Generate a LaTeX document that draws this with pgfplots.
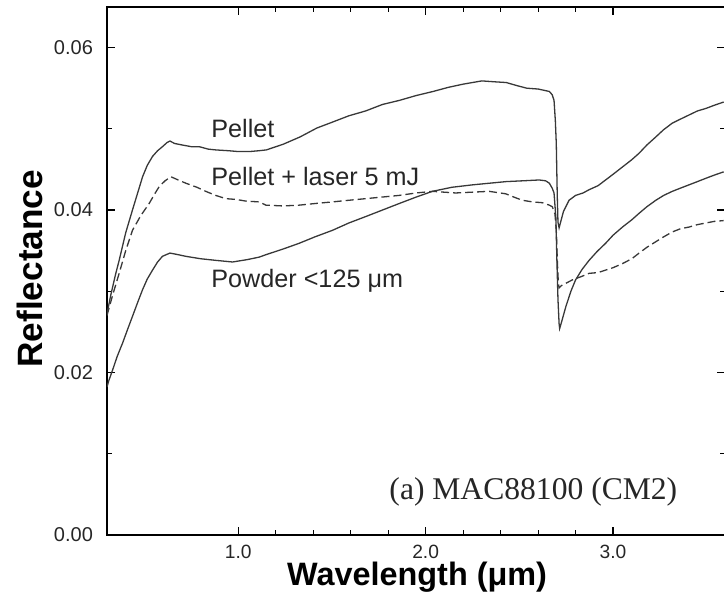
\documentclass[border=0pt]{standalone}
\usepackage{pgfplots}
\pgfplotsset{compat=1.18}
\usepackage{pgfplotstable}
\usepackage{fontspec}
\setmainfont{Liberation Sans}
\newfontfamily\timesfont{Liberation Serif}

% Reflectance spectra of MAC88100 (CM2): wavelength (um) vs reflectance
\pgfplotstableread{
w r
0.300 0.0272
0.320 0.0295
0.345 0.0320
0.365 0.0338
0.400 0.0372
0.436 0.0400
0.465 0.0422
0.490 0.0441
0.515 0.0455
0.543 0.0466
0.570 0.0473
0.596 0.0478
0.620 0.0483
0.636 0.0485
0.660 0.0482
0.703 0.0480
0.750 0.0478
0.792 0.0478
0.840 0.0475
0.881 0.0474
0.950 0.0473
1.000 0.0472
1.060 0.0472
1.110 0.0473
1.150 0.0474
1.240 0.0481
1.330 0.0490
1.420 0.0501
1.500 0.0508
1.590 0.0516
1.680 0.0522
1.770 0.0530
1.860 0.0535
1.950 0.0541
2.040 0.0546
2.120 0.0551
2.200 0.0555
2.300 0.0559
2.360 0.0558
2.430 0.0557
2.490 0.0553
2.540 0.0550
2.600 0.0549
2.660 0.0546
2.675 0.0542
2.685 0.0535
2.692 0.0510
2.697 0.0482
2.702 0.0420
2.706 0.0385
2.712 0.0378
2.720 0.0385
2.735 0.0398
2.765 0.0412
2.800 0.0418
2.840 0.0421
2.872 0.0425
2.920 0.0430
2.960 0.0437
3.000 0.0444
3.050 0.0453
3.100 0.0462
3.139 0.0470
3.180 0.0480
3.228 0.0490
3.270 0.0499
3.316 0.0507
3.360 0.0512
3.405 0.0517
3.450 0.0522
3.494 0.0525
3.540 0.0529
3.590 0.0533
}\pellet

\pgfplotstableread{
w r
0.300 0.0270
0.330 0.0295
0.365 0.0322
0.400 0.0350
0.436 0.0375
0.480 0.0393
0.525 0.0408
0.555 0.0420
0.579 0.0429
0.610 0.0436
0.641 0.0441
0.680 0.0437
0.721 0.0433
0.780 0.0428
0.827 0.0423
0.880 0.0418
0.934 0.0414
0.990 0.0413
1.040 0.0411
1.112 0.0410
1.148 0.0406
1.240 0.0405
1.325 0.0406
1.410 0.0408
1.503 0.0410
1.590 0.0412
1.680 0.0414
1.770 0.0416
1.859 0.0418
1.950 0.0421
2.036 0.0423
2.160 0.0421
2.250 0.0422
2.339 0.0423
2.427 0.0420
2.470 0.0416
2.516 0.0412
2.570 0.0410
2.623 0.0409
2.660 0.0406
2.676 0.0404
2.690 0.0395
2.697 0.0375
2.703 0.0335
2.708 0.0310
2.712 0.0304
2.725 0.0307
2.750 0.0310
2.783 0.0314
2.830 0.0318
2.872 0.0322
2.920 0.0323
2.960 0.0326
3.000 0.0329
3.050 0.0334
3.100 0.0340
3.139 0.0347
3.180 0.0354
3.228 0.0361
3.270 0.0367
3.316 0.0373
3.360 0.0377
3.405 0.0379
3.450 0.0382
3.494 0.0384
3.540 0.0386
3.590 0.0387
}\laser

\pgfplotstableread{
w r
0.300 0.0182
0.310 0.0190
0.330 0.0203
0.355 0.0220
0.383 0.0236
0.410 0.0253
0.436 0.0269
0.465 0.0287
0.490 0.0302
0.515 0.0315
0.543 0.0326
0.570 0.0336
0.596 0.0343
0.636 0.0347
0.680 0.0345
0.720 0.0343
0.800 0.0340
0.881 0.0338
0.970 0.0336
1.050 0.0339
1.112 0.0342
1.148 0.0345
1.240 0.0352
1.325 0.0359
1.410 0.0367
1.503 0.0375
1.590 0.0384
1.681 0.0392
1.770 0.0400
1.859 0.0408
1.950 0.0416
2.036 0.0423
2.140 0.0428
2.250 0.0431
2.340 0.0433
2.430 0.0435
2.520 0.0436
2.605 0.0437
2.640 0.0436
2.660 0.0433
2.675 0.0427
2.685 0.0421
2.695 0.0390
2.700 0.0340
2.706 0.0290
2.712 0.0260
2.715 0.0254
2.725 0.0262
2.748 0.0281
2.775 0.0300
2.800 0.0314
2.835 0.0327
2.872 0.0338
2.915 0.0349
2.960 0.0359
3.000 0.0369
3.050 0.0379
3.100 0.0388
3.139 0.0396
3.180 0.0404
3.228 0.0412
3.270 0.0418
3.316 0.0423
3.360 0.0427
3.405 0.0431
3.450 0.0435
3.494 0.0439
3.540 0.0443
3.590 0.0447
}\powder

\begin{document}
\begin{tikzpicture}
\begin{axis}[
  scale only axis,
  width=309pt, height=264pt,
  xmin=0.3, xmax=3.596,
  ymin=0, ymax=0.065,
  axis line style={black, line width=0.8pt},
  tick style={black, line width=0.6pt},
  tick align=inside,
  major tick length=4pt,
  minor tick length=2.5pt,
  xtick={1,2,3},
  minor x tick num=4,
  ytick={0,0.02,0.04,0.06},
  minor y tick num=1,
  scaled y ticks=false,
  /pgf/number format/assume math mode=true,
  tick label style={text=black!85},
  xticklabel style={font=\fontsize{9.6}{11}\selectfont,
    /pgf/number format/.cd, fixed, fixed zerofill, precision=1, /tikz/.cd, yshift=-1.6pt},
  yticklabel style={font=\fontsize{10}{12}\selectfont,
    /pgf/number format/.cd, fixed, fixed zerofill, precision=2, /tikz/.cd, xshift=-3.5pt},
  xlabel={Wavelength (μm)},
  ylabel={Reflectance},
  xlabel style={font=\fontsize{16.2}{18}\selectfont\bfseries,
    at={(axis description cs:0.502,-0.0966)}, anchor=base},
  ylabel style={font=\fontsize{17.6}{20}\selectfont\bfseries,
    at={(axis description cs:-0.1246,0.504)}, anchor=center},
  every axis plot/.append style={line width=0.65pt, black!78},
]
\addplot[no marks] table[x=w, y=r] {\pellet};
\addplot[no marks, dash pattern=on 4pt off 2pt] table[x=w, y=r] {\laser};
\addplot[no marks] table[x=w, y=r] {\powder};

\node[inner sep=0pt, anchor=base west, font=\fontsize{12.6}{14}\selectfont, text=black!85] at (axis cs:0.855,0.04898) {Pellet};
\node[inner sep=0pt, anchor=base west, font=\fontsize{12.6}{14}\selectfont, text=black!85] at (axis cs:0.855,0.04308) {Pellet + laser 5 mJ};
\node[inner sep=0pt, anchor=base west, font=\fontsize{12.6}{14}\selectfont, text=black!85] at (axis cs:0.855,0.0304) {Powder <125 μm};
\node[inner sep=0pt, anchor=base west, font=\timesfont\fontsize{15.8}{18}\selectfont, text=black!85] at (axis cs:1.805,0.00431) {(a) MAC88100 (CM2)};
\end{axis}
\pgfresetboundingbox
\path (-53.5pt,-32pt) rectangle (308.6pt,267.5pt);
\end{tikzpicture}
\end{document}
